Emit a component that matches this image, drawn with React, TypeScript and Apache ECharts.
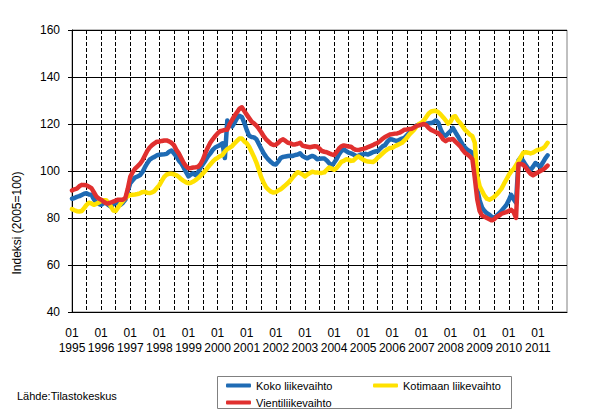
import React, { useEffect, useRef } from "react";
import * as echarts from "echarts";

const FONT = "'Liberation Sans', Arial, Helvetica, sans-serif";

const firstYear = 1995;
const lastLabelYear = 2011;
// monthly categories 1995-01 ... 2012-01
const categories: string[] = [];
for (let y = firstYear; y <= 2011; y++) {
  for (let m = 1; m <= 12; m++) categories.push(`${y}-${m < 10 ? "0" + m : m}`);
}
categories.push("2012-01");

const seriesNames = ["Koko liikevaihto", "Kotimaan liikevaihto", "Vientiliikevaihto"];
const seriesColors = ["#1F6BB4", "#FFE100", "#E0302F"];

// Koko liikevaihto, 1995-01 ... 2011-05
const kokoLiikevaihto = [
  88.2, 88.5, 89.0, 89.3, 89.8, 90.3, 90.5, 90.0, 89.9, 88.0, 86.6, 86.0,
  85.6, 86.3, 86.5, 85.5, 84.9, 85.8, 86.6, 86.0, 85.6, 86.5, 87.8, 91.5,
  94.8, 96.0, 97.2, 97.7, 98.2, 99.5, 101.5, 103.3, 104.8, 105.5, 106.0, 106.7,
  106.9, 107.0, 107.1, 107.3, 108.2, 108.7, 107.5, 106.2, 104.5, 103.3, 101.5, 99.5,
  97.7, 98.5, 99.0, 98.2, 99.5, 101.5, 103.0, 104.5, 106.2, 107.5, 109.0, 110.0,
  110.5, 111.0, 111.8, 105.5, 121.5, 119.5, 119.0, 120.5, 122.5, 123.5, 123.0, 120.5,
  117.5, 115.0, 114.5, 114.3, 113.5, 111.5, 109.5, 107.5, 106.0, 104.8, 103.8, 103.0,
  102.8, 104.0, 105.5, 106.0, 106.2, 106.4, 106.5, 106.4, 106.8, 107.0, 107.5, 106.4,
  105.8, 105.4, 106.0, 106.4, 106.0, 105.0, 105.2, 105.3, 105.3, 104.5, 103.3, 102.2,
  103.5, 105.0, 107.0, 108.5, 109.2, 108.5, 107.8, 107.5, 107.0, 106.4, 106.5, 107.0,
  107.1, 107.3, 107.0, 107.5, 108.0, 108.3, 108.5, 109.5, 110.5, 111.0, 112.5, 113.5,
  113.4, 113.0, 112.7, 113.3, 113.8, 114.1, 115.2, 116.3, 117.0, 118.2, 119.4, 119.7,
  119.8, 120.0, 120.1, 120.3, 120.4, 120.8, 121.5, 120.5, 117.5, 115.5, 115.0, 116.0,
  117.0, 118.3, 116.5, 114.8, 113.0, 111.2, 110.0, 109.0, 108.4, 107.8, 101.0, 92.0,
  87.5, 84.5, 83.0, 82.0, 81.4, 80.5, 80.0, 81.0, 82.0, 83.0, 84.3, 85.5,
  87.5, 89.9, 88.0, 86.5, 104.5, 105.8, 104.2, 102.5, 101.0, 100.5, 101.8, 103.4,
  102.5, 101.8, 103.5, 105.3, 106.7,
];

// Kotimaan liikevaihto, 1995-01 ... 2011-05
const kotimaanLiikevaihto = [
  83.8, 83.3, 82.9, 82.8, 83.0, 84.2, 85.6, 86.5, 86.2, 85.6, 86.0, 86.6,
  87.2, 87.6, 87.6, 86.5, 85.0, 83.2, 83.0, 84.5, 86.0, 87.3, 88.5, 89.3,
  89.8, 89.9, 90.0, 90.2, 90.5, 91.0, 91.2, 90.7, 90.6, 90.9, 91.5, 92.8,
  94.0, 95.8, 97.5, 98.5, 98.8, 98.8, 98.6, 98.2, 97.5, 96.5, 95.8, 95.2,
  94.8, 95.0, 95.5, 96.2, 97.0, 98.0, 99.0, 100.2, 101.5, 102.8, 104.0, 105.0,
  105.6, 106.3, 106.8, 108.3, 109.3, 109.9, 110.6, 111.8, 112.8, 113.8, 113.8, 112.6,
  111.8, 110.3, 108.2, 106.0, 103.6, 100.5, 97.3, 95.0, 93.1, 92.0, 91.2, 90.8,
  91.0, 91.7, 92.2, 93.1, 94.0, 94.9, 96.0, 97.3, 98.5, 99.5, 99.1, 98.5,
  97.7, 98.5, 99.1, 99.7, 99.4, 99.4, 99.2, 99.2, 99.4, 100.5, 101.5, 101.0,
  100.5, 101.2, 102.5, 103.9, 104.3, 105.0, 104.8, 104.3, 104.5, 105.5, 106.2, 105.5,
  104.8, 104.3, 104.0, 103.9, 103.8, 104.5, 105.7, 106.5, 107.5, 108.5, 109.2, 109.8,
  109.9, 110.5, 111.0, 111.5, 112.0, 113.0, 114.1, 115.5, 116.5, 117.6, 119.0, 120.0,
  120.5, 121.5, 123.0, 124.5, 125.3, 125.5, 125.6, 125.0, 124.0, 122.8, 121.5, 120.2,
  121.0, 123.0, 123.3, 121.5, 120.4, 119.0, 117.5, 116.5, 115.5, 114.8, 112.0, 98.0,
  93.5, 91.5, 89.5, 88.2, 87.8, 88.3, 89.0, 90.0, 91.2, 92.5, 94.5, 96.3,
  98.3, 99.8, 100.8, 102.5, 104.2, 106.0, 107.8, 108.0, 107.8, 107.5, 107.8, 108.5,
  109.0, 109.2, 109.6, 110.5, 112.0,
];

// Vientiliikevaihto, 1995-01 ... 2011-05
const vientiLiikevaihto = [
  91.7, 92.2, 92.5, 93.5, 94.1, 94.0, 93.9, 93.3, 92.7, 91.0, 89.2, 88.3,
  87.8, 87.0, 86.3, 86.2, 86.6, 87.0, 87.4, 87.8, 87.8, 87.8, 88.5, 92.5,
  97.5, 99.5, 101.0, 102.0, 103.0, 104.5, 106.5, 108.5, 110.0, 111.0, 111.8, 112.5,
  112.5, 112.8, 113.0, 113.0, 112.6, 112.0, 111.0, 109.0, 107.5, 105.5, 103.5, 102.0,
  101.2, 101.3, 101.5, 101.6, 101.8, 103.0, 105.0, 107.8, 110.0, 112.0, 113.5, 114.8,
  116.0, 116.9, 117.2, 117.5, 117.6, 120.0, 121.8, 123.5, 125.0, 126.5, 127.1, 125.5,
  124.0, 122.5, 121.0, 120.3, 119.3, 118.0, 116.5, 114.8, 113.5, 112.5, 111.5, 111.1,
  111.2, 112.0, 113.0, 113.5, 112.8, 112.0, 111.8, 111.3, 111.3, 111.6, 112.0, 110.8,
  110.5, 110.3, 110.1, 110.3, 110.5, 110.4, 109.5, 108.5, 108.2, 108.0, 107.5, 107.1,
  106.8, 108.0, 109.5, 110.5, 110.9, 110.7, 110.4, 110.3, 109.5, 109.0, 108.9, 109.2,
  109.4, 109.7, 110.2, 110.6, 111.0, 111.6, 112.0, 112.8, 113.7, 114.5, 115.0, 115.5,
  115.7, 115.9, 116.0, 116.3, 116.9, 117.6, 117.7, 117.9, 118.0, 118.5, 119.2, 119.4,
  119.7, 120.0, 119.5, 118.3, 117.5, 117.0, 116.5, 116.0, 115.0, 113.4, 112.7, 113.4,
  113.4, 113.6, 112.5, 111.5, 110.5, 109.0, 107.7, 107.0, 106.2, 105.0, 97.0, 88.0,
  83.0, 81.0, 80.5, 80.0, 79.5, 79.0, 79.5, 80.5, 81.0, 81.8, 82.2, 82.5,
  83.0, 83.5, 82.5, 80.0, 103.0, 103.0, 102.6, 101.5, 100.0, 98.8, 98.2, 98.8,
  99.4, 100.0, 100.5, 101.3, 102.3,
];

const seriesData = [kokoLiikevaihto, kotimaanLiikevaihto, vientiLiikevaihto];

const yMin = 40;
const yMax = 160;
const yStep = 20;

export default function App() {
  const ref = useRef<HTMLDivElement>(null);

  useEffect(() => {
    if (!ref.current) return;
    const chart = echarts.init(ref.current, undefined, { renderer: "svg" });
    const legendCommon = {
      icon: "roundRect",
      itemWidth: 25,
      itemHeight: 4,
      padding: 0,
      itemGap: 0,
      textStyle: { fontSize: 11, color: "#000", fontFamily: FONT },
    };
    chart.setOption({
      animation: false,
      backgroundColor: "#fff",
      textStyle: { fontFamily: FONT },
      grid: {
        left: 72,
        right: 25,
        top: 30,
        bottom: 103,
        show: true,
        borderColor: "#808080",
        borderWidth: 1,
        backgroundColor: "transparent",
      },
      xAxis: {
        type: "category",
        data: categories,
        boundaryGap: false,
        axisLine: { lineStyle: { color: "#000", width: 1 } },
        axisTick: { show: false },
        axisLabel: {
          interval: (i: number) => i % 12 === 0 && i < categories.length - 1,
          formatter: (v: string) => {
            const yr = Number(v.slice(0, 4));
            return yr <= lastLabelYear ? "01\n" + v.slice(0, 4) : "";
          },
          color: "#000",
          fontSize: 12,
          lineHeight: 15,
          margin: 13,
          fontFamily: FONT,
        },
        splitLine: {
          show: true,
          interval: (i: number) => i % 6 === 0 && i > 0 && i < categories.length - 1,
          lineStyle: { color: "#000", width: 1, type: [4, 2] },
        },
      },
      yAxis: {
        type: "value",
        min: yMin,
        max: yMax,
        interval: yStep,
        axisLine: { show: true, lineStyle: { color: "#000", width: 1 } },
        axisTick: { show: true, length: 4, lineStyle: { color: "#000" } },
        axisLabel: { color: "#000", fontSize: 12, margin: 12, fontFamily: FONT },
        splitLine: { show: true, lineStyle: { color: "#000", width: 1 } },
      },
      legend: [
        { ...legendCommon, data: [seriesNames[0]], left: 226, top: 380 },
        { ...legendCommon, data: [seriesNames[1]], left: 373, top: 380 },
        { ...legendCommon, data: [seriesNames[2]], left: 226, top: 397 },
      ],
      graphic: [
        {
          type: "rect",
          shape: { x: 217.5, y: 376.5, width: 294, height: 32 },
          style: { fill: "none", stroke: "#808080", lineWidth: 1 },
          z: 1,
        },
        {
          type: "text",
          x: 17,
          y: 396,
          style: {
            text: "Lähde:Tilastokeskus",
            fontSize: 11,
            fill: "#000",
            fontFamily: FONT,
            verticalAlign: "middle",
            align: "left",
          },
        },
        {
          type: "text",
          x: 17,
          y: 223,
          rotation: Math.PI / 2,
          style: {
            text: "Indeksi (2005=100)",
            fontSize: 12,
            fill: "#000",
            fontFamily: FONT,
            verticalAlign: "middle",
            align: "center",
          },
        },
      ],
      series: seriesNames.map((name, k) => ({
        name,
        type: "line",
        data: seriesData[k],
        showSymbol: false,
        symbol: "none",
        smooth: false,
        color: seriesColors[k],
        lineStyle: { width: 4.5, color: seriesColors[k], cap: "round", join: "round" },
        itemStyle: { color: seriesColors[k] },
        emphasis: { disabled: true },
      })),
    });
    return () => chart.dispose();
  }, []);

  return (
    <div
      ref={ref}
      style={{ position: "fixed", left: 0, top: 0, width: 592, height: 415, background: "#fff" }}
    />
  );
}
